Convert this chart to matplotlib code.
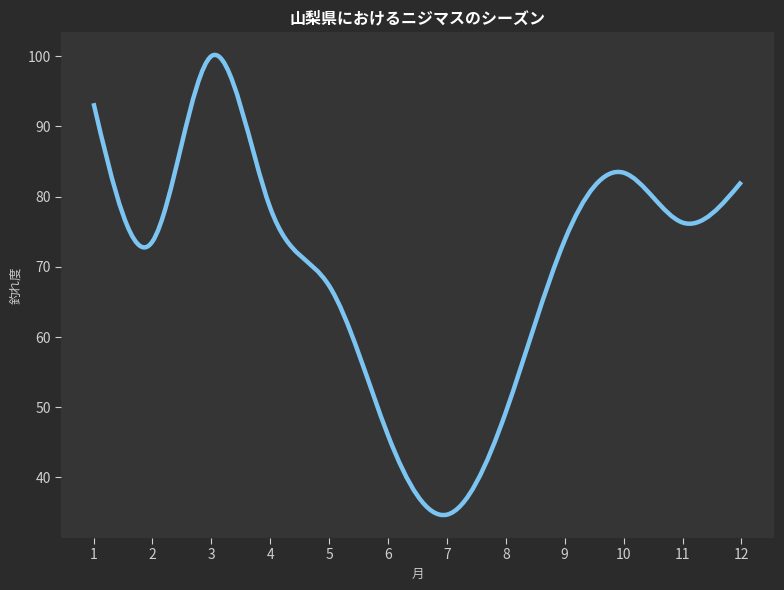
import numpy as np
import matplotlib
matplotlib.use("Agg")
import matplotlib.pyplot as plt
from matplotlib.path import Path
from matplotlib.patches import PathPatch

plt.rcParams['font.family'] = ['Noto Sans CJK JP', 'DejaVu Sans']

months = [1, 2, 3, 4, 5, 6, 7, 8, 9, 10, 11, 12]
catch = [93.3, 73.6, 100.0, 78.4, 67.3, 46.0, 34.7, 49.3, 73.8, 83.4, 76.3, 82.1]

title = "山梨県におけるニジマスのシーズン"
xlabel = "月"
ylabel = "釣れ度"


def spline_slopes(x, y):
    # natural cubic spline -> first derivative at each knot
    x = np.asarray(x, float)
    y = np.asarray(y, float)
    n = len(x)
    h = np.diff(x)
    A = np.zeros((n, n))
    b = np.zeros(n)
    A[0, 0] = 1
    A[-1, -1] = 1
    for i in range(1, n - 1):
        A[i, i - 1] = h[i - 1]
        A[i, i] = 2 * (h[i - 1] + h[i])
        A[i, i + 1] = h[i]
        b[i] = 6 * ((y[i + 1] - y[i]) / h[i] - (y[i] - y[i - 1]) / h[i - 1])
    M = np.linalg.solve(A, b)
    s = np.zeros(n)
    for i in range(n - 1):
        s[i] = (y[i + 1] - y[i]) / h[i] - h[i] * (2 * M[i] + M[i + 1]) / 6
    s[-1] = (y[-1] - y[-2]) / h[-1] + h[-1] * (M[-2] + 2 * M[-1]) / 6
    return s


def smooth_path(x, y):
    s = spline_slopes(x, y)
    verts = [(x[0], y[0])]
    codes = [Path.MOVETO]
    for i in range(len(x) - 1):
        d = (x[i + 1] - x[i]) / 3
        verts += [(x[i] + d, y[i] + d * s[i]),
                  (x[i + 1] - d, y[i + 1] - d * s[i + 1]),
                  (x[i + 1], y[i + 1])]
        codes += [Path.CURVE4] * 3
    return Path(verts, codes)


fig = plt.figure(figsize=(7.84, 5.9), dpi=100, facecolor='#2b2b2b')
ax = fig.add_axes([0.078, 0.088, 0.909, 0.858])
ax.set_facecolor('#353535')

ax.add_patch(PathPatch(smooth_path(months, catch), fill=False,
                       edgecolor='#7cc4f2', linewidth=3.2, capstyle='butt'))
ax.autoscale_view()
ax.margins(x=0.05, y=0.05)

ax.set_xticks(months)
for sp in ax.spines.values():
    sp.set_visible(False)
ax.tick_params(colors='#d0d0d0', labelsize=10, length=4, width=0.8)
ax.set_title(title, color='white', fontsize=11.5, fontweight='bold', pad=6)
ax.set_xlabel(xlabel, color='#c8c8c8', fontsize=9)
ax.set_ylabel(ylabel, color='#c8c8c8', fontsize=9)

fig.savefig('out.png', dpi=100, facecolor=fig.get_facecolor())
